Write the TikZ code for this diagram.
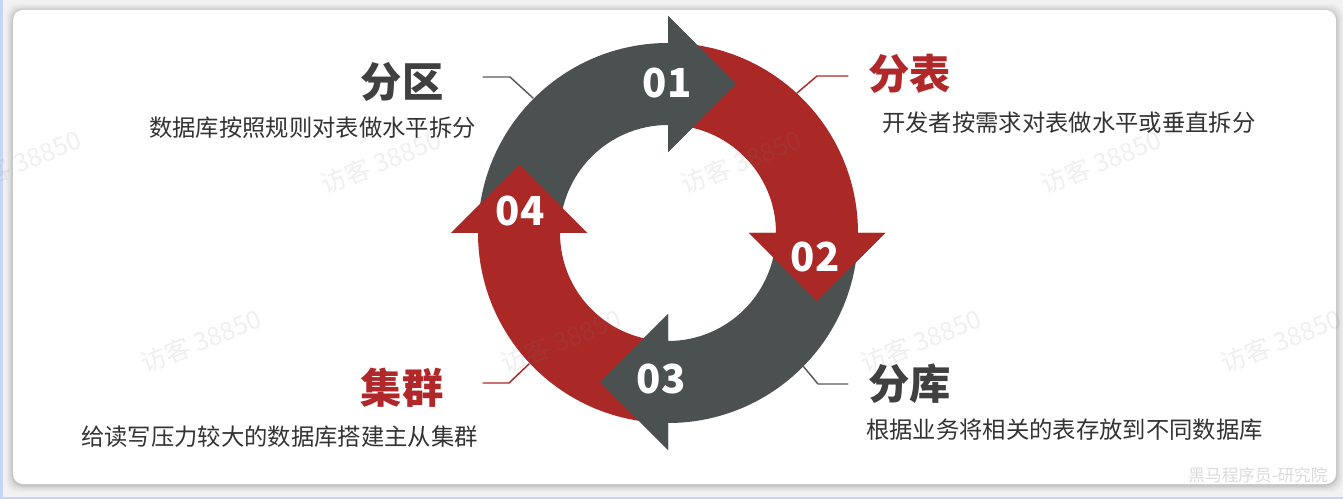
\documentclass[tikz,border=0pt]{standalone}
\usepackage{fontspec}
\setmainfont{Noto Sans CJK SC}
\definecolor{ringgray}{HTML}{4B5051}
\definecolor{ringred}{HTML}{AA2825}
\definecolor{titlegray}{HTML}{404040}
\definecolor{titlered}{HTML}{B0282A}
\definecolor{leadgray}{HTML}{5A5A5A}
\definecolor{desctext}{HTML}{333333}
\definecolor{pagebg}{HTML}{F2F2F2}
\definecolor{edgeblue}{HTML}{C6D6F6}

\begin{document}
\begin{tikzpicture}[x=0.75pt,y=-0.75pt,line join=round,line cap=round,
  title/.style={font=\fontsize{31}{31}\selectfont\bfseries,inner sep=0pt},
  desc/.style={font=\fontsize{17.5}{18}\selectfont,text=desctext,inner sep=0pt},
  num/.style={font=\fontsize{30}{30}\selectfont\bfseries,text=white,inner sep=0pt},
  leader/.style={line width=1.1pt},
  watermark/.style={font=\fontsize{19}{19}\selectfont,text=gray,opacity=0.12,rotate=22,inner sep=0pt}]
  \useasboundingbox (0,0) rectangle (1343,499);
  \clip (0,0) rectangle (1343,499);

  % page and card
  \fill[pagebg] (0,0) rectangle (1343,499);
  \fill[edgeblue] (0,0) rectangle (2.5,499);
  \fill[edgeblue] (0,496.5) rectangle (1343,499);
  \foreach \s/\o in {7/0.03,5/0.04,3/0.05,1.5/0.07}
    \fill[black,opacity=\o,rounded corners=9pt] (13-\s,10-\s+1) rectangle (1336+\s,484+\s+1);
  \fill[white,rounded corners=7.5pt] (13,10) rectangle (1336,484);

  % ring of four arrows
  \begin{scope}[shift={(668,233)},yscale=-1]
    \foreach \k/\col in {0/ringgray,1/ringred,2/ringgray,3/ringred}
      \fill[\col,rotate=-90*\k] (180:190) arc[start angle=180,end angle=90,radius=190]
        -- (0,217) -- (68,149) -- (0,81) -- (90:108) arc[start angle=90,end angle=180,radius=108] -- cycle;
    % heads on top of the next band
    \foreach \k/\col in {0/ringgray,1/ringred,2/ringgray,3/ringred}
      \fill[\col,rotate=-90*\k] (0,217) -- (68,149) -- (0,81) -- cycle;
  \end{scope}

  \node[num] (n1) at (667,83) {01};
  \node[num] (n2) at (815,257) {02};
  \node[num] (n3) at (661,379) {03};
  \node[num] (n4) at (520,211) {04};

  % labels
  \node[title,text=titlegray] (fenqu) at (402,82) {分区};
  \node[desc,anchor=east] (fenqudesc) at (476,128) {数据库按照规则对表做水平拆分};
  \node[title,text=titlered,anchor=west] (fenbiao) at (868,74) {分表};
  \node[desc,anchor=west] (fenbiaodesc) at (882,123) {开发者按需求对表做水平或垂直拆分};
  \node[title,text=titlegray,anchor=west] (fenku) at (868,384) {分库};
  \node[desc,anchor=west] (fenkudesc) at (866,430) {根据业务将相关的表存放到不同数据库};
  \node[title,text=titlered] (jiqun) at (402,388) {集群};
  \node[desc,anchor=east] (jiqundesc) at (478,437) {给读写压力较大的数据库搭建主从集群};

  % leader lines to the ring
  \coordinate (fenqu-a) at (483,77);
  \coordinate (fenqu-b) at (510,77);
  \coordinate (fenqu-c) at (533,98);
  \coordinate (fenbiao-a) at (848,76);
  \coordinate (fenbiao-b) at (817,76);
  \coordinate (fenbiao-c) at (797,93);
  \coordinate (jiqun-a) at (483,383);
  \coordinate (jiqun-b) at (509,383);
  \coordinate (jiqun-c) at (529,364);
  \coordinate (fenku-a) at (848,384);
  \coordinate (fenku-b) at (818,384);
  \coordinate (fenku-c) at (803,366);
  \draw[leader,leadgray] (fenqu-a) -- (fenqu-b) -- (fenqu-c);
  \draw[leader,titlered] (fenbiao-a) -- (fenbiao-b) -- (fenbiao-c);
  \draw[leader,titlered] (jiqun-a) -- (jiqun-b) -- (jiqun-c);
  \draw[leader,leadgray] (fenku-a) -- (fenku-b) -- (fenku-c);

  % watermarks
  \foreach \wx/\wy [count=\i] in {21/162,381/162,741/162,1101/162,201/341,561/341,921/341,1281/341}
    \node[watermark] (wm\i) at (\wx,\wy) {访客 38850};
  \node[text=black!14,font=\fontsize{12.5}{13}\selectfont,inner sep=0pt] (footer) at (1258,475) {黑马程序员-研究院};
\end{tikzpicture}
\end{document}
